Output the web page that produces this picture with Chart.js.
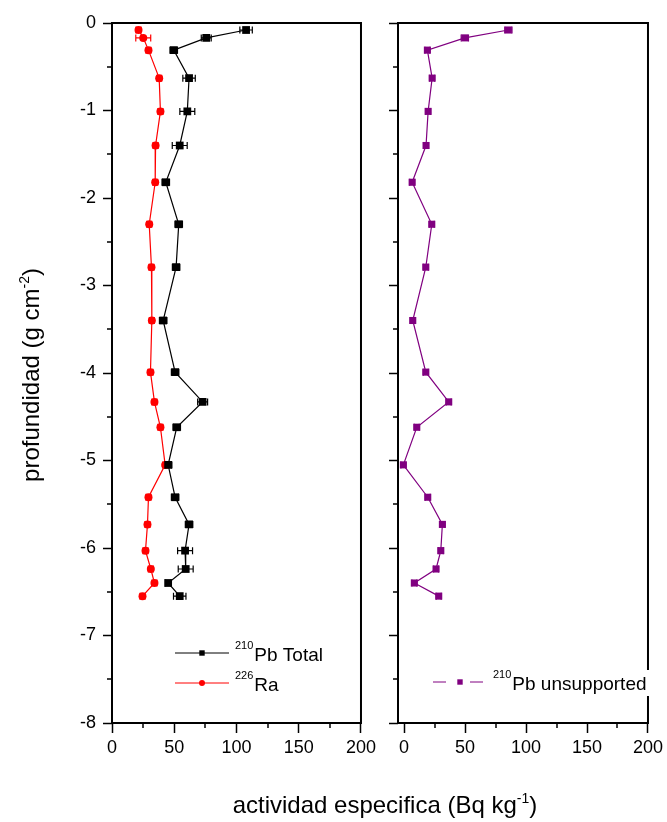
<!DOCTYPE html>
<html>
<head>
<meta charset="utf-8">
<script src="https://cdn.jsdelivr.net/npm/chart.js@4.4.1/dist/chart.umd.min.js"></script>
<style>
body{margin:0;background:#fff;width:667px;height:822px;position:relative;overflow:hidden;font-family:"Liberation Sans",Arial,sans-serif;color:#000}
canvas{position:absolute;top:0}
#left{left:0}
#right{left:380px}
.sup{font-size:14px;position:relative;top:-10px}
#xtitle{position:absolute;left:0;width:770px;top:790px;text-align:center;font-size:24px;line-height:30px}
#ytitle{position:absolute;left:-169px;top:360px;width:400px;height:30px;line-height:30px;text-align:center;font-size:24px;transform:rotate(-90deg)}
</style>
</head>
<body>
<canvas id="left" width="380" height="822"></canvas>
<canvas id="right" width="287" height="822"></canvas>
<div id="xtitle">actividad especifica (Bq kg<span class="sup">-1</span>)</div>
<div id="ytitle">profundidad (g cm<span class="sup">-2</span>)</div>
<script>
// depth (g cm-2) of each slice
const depth = [-0.08,-0.17,-0.31,-0.63,-1.01,-1.40,-1.82,-2.30,-2.79,-3.40,-3.99,-4.33,-4.62,-5.05,-5.42,-5.73,-6.03,-6.24,-6.40,-6.55];
const pbTotal = [107.7,75.7,49.6,61.9,60.5,54.4,43.2,53.6,51.5,41.1,50.7,72.8,52.0,45.1,50.7,61.9,58.7,59.2,45.1,54.4];
const pbTotalErr = [5,4,3,5,6,6,3,3,3,3,3,4,3,3,3,3,6,6,2,5];
const ra226 = [21.3,25.1,29.3,37.9,38.9,35.0,34.7,29.9,31.7,32.0,30.9,34.1,38.9,42.7,29.3,28.5,26.9,31.2,34.1,24.5];
const ra226Err = [2,6,2,2,2,2,2,2,2,2,2,2,2,2,2,2,2,2,2,2];
const pbUns = [85.5,49.8,19.1,23.0,19.7,18.0,6.6,22.7,17.8,7.1,17.8,36.6,10.4,-0.6,19.4,31.4,30.1,26.2,8.4,28.4];
const pbUnsErr = [3,3,2,2,2,2,2,2,2,2,2,2,2,2,2,2,2,2,2,2];
const xTicks = [0,50,100,150,200];
const yTicks = [-8,-7,-6,-5,-4,-3,-2,-1,0];

const FONT = '"Liberation Sans", Arial, sans-serif';

function pts(xs){ return xs.map((v,i)=>({x:v,y:depth[i]})); }

// error bars, frame, minor ticks, legend
const extras = {
  id:'extras',
  beforeDatasetsDraw(chart){
    const ctx=chart.ctx, xs=chart.scales.x, ys=chart.scales.y;
    chart.data.datasets.forEach((ds)=>{
      if(!ds.err) return;
      ctx.save();
      ctx.strokeStyle=ds.borderColor; ctx.lineWidth=1.2;
      ds.data.forEach((p,j)=>{
        const e=ds.err[j];
        const x1=xs.getPixelForValue(p.x-e), x2=xs.getPixelForValue(p.x+e), y=ys.getPixelForValue(p.y);
        ctx.beginPath();
        ctx.moveTo(x1,y);ctx.lineTo(x2,y);
        ctx.moveTo(x1,y-3.5);ctx.lineTo(x1,y+3.5);
        ctx.moveTo(x2,y-3.5);ctx.lineTo(x2,y+3.5);
        ctx.stroke();
      });
      ctx.restore();
    });
  },
  afterDraw(chart,args,opts){
    const ctx=chart.ctx, a=chart.chartArea, xs=chart.scales.x, ys=chart.scales.y;
    ctx.save();
    ctx.strokeStyle='#000';
    ctx.lineWidth=1.5;
    ctx.beginPath();
    for(let v=-7.5; v<0; v+=1){
      const y=Math.round(ys.getPixelForValue(v));
      ctx.moveTo(a.left-5,y);ctx.lineTo(a.left,y);
    }
    for(let v=25; v<200; v+=50){
      const x=Math.round(xs.getPixelForValue(v));
      ctx.moveTo(x,a.bottom);ctx.lineTo(x,a.bottom+5);
    }
    ctx.stroke();
    ctx.lineWidth=2;
    ctx.strokeRect(a.left,a.top,a.right-a.left,a.bottom-a.top);
    // legend
    const off=opts.offset||0;
    if(opts.box){
      ctx.fillStyle='#fff';
      ctx.fillRect(opts.box[0]-off,opts.box[1],opts.box[2],opts.box[3]);
    }
    (opts.items||[]).forEach(it=>{
      ctx.strokeStyle=it.color; ctx.fillStyle=it.color; ctx.lineWidth=1;
      ctx.beginPath();
      it.lines.forEach(l=>{ctx.moveTo(l[0]-off,it.y);ctx.lineTo(l[1]-off,it.y);});
      ctx.stroke();
      const mx=it.mx-off;
      if(it.shape==='circle'){
        ctx.beginPath();ctx.arc(mx,it.y,3,0,Math.PI*2);ctx.fill();
      } else {
        ctx.fillRect(mx-2.7,it.y-2.7,5.4,5.4);
      }
      ctx.fillStyle='#000';
      ctx.textBaseline='alphabetic';ctx.textAlign='left';
      ctx.font='11px '+FONT;
      ctx.fillText(it.sup,it.tx-off,it.y-4);
      const w=ctx.measureText(it.sup).width;
      ctx.font='19px '+FONT;
      ctx.fillText(it.text,it.tx-off+w+1,it.y+8);
    });
    ctx.restore();
  }
};

function axes(xmin, showYLabels, yWidth){
  return {
    x:{type:'linear',min:xmin,max:200,
      afterBuildTicks:s=>{s.ticks=xTicks.map(v=>({value:v}));},
      afterFit:s=>{s.height=99;},
      border:{display:false},
      grid:{drawOnChartArea:false,drawTicks:true,tickLength:10,tickColor:'#000',tickWidth:1.5},
      ticks:{color:'#000',padding:4,maxRotation:0,font:{family:FONT,size:18}}},
    y:{type:'linear',min:-8,max:0,
      afterBuildTicks:s=>{s.ticks=yTicks.map(v=>({value:v}));},
      afterFit:s=>{s.width=yWidth;},
      border:{display:false},
      grid:{drawOnChartArea:false,drawTicks:true,tickLength:9,tickColor:'#000',tickWidth:1.5},
      ticks:{display:showYLabels,color:'#000',padding:7,font:{family:FONT,size:18}}}
  };
}

new Chart(document.getElementById('left'),{
  type:'scatter',
  data:{datasets:[
    {label:'210Pb Total',data:pts(pbTotal),err:pbTotalErr,showLine:true,borderColor:'#000',backgroundColor:'#000',
     borderWidth:1.2,pointStyle:'rect',pointRadius:5.5,pointBorderWidth:0},
    {label:'226Ra',data:pts(ra226),err:ra226Err,showLine:true,borderColor:'#ff0000',backgroundColor:'#ff0000',
     borderWidth:1.2,pointStyle:'circle',pointRadius:4,pointBorderWidth:0}
  ]},
  options:{responsive:false,animation:false,devicePixelRatio:1,
    layout:{padding:{left:0,right:18,top:23,bottom:0}},
    plugins:{legend:{display:false},tooltip:{enabled:false},
      extras:{offset:0,items:[
        {color:'#000',shape:'rect',y:653,lines:[[175,229]],mx:202,sup:'210',text:'Pb Total',tx:235},
        {color:'#ff0000',shape:'circle',y:683,lines:[[175,229]],mx:202,sup:'226',text:'Ra',tx:235}
      ]}},
    scales:axes(0,true,112)},
  plugins:[extras]
});

new Chart(document.getElementById('right'),{
  type:'scatter',
  data:{datasets:[
    {label:'210Pb unsupported',data:pts(pbUns),err:pbUnsErr,showLine:true,borderColor:'#800080',backgroundColor:'#800080',
     borderWidth:1.2,pointStyle:'rect',pointRadius:5,pointBorderWidth:0}
  ]},
  options:{responsive:false,animation:false,devicePixelRatio:1,
    layout:{padding:{left:0,right:19,top:23,bottom:0}},
    plugins:{legend:{display:false},tooltip:{enabled:false},
      extras:{offset:380,box:[428,670,226,26],items:[
        {color:'#800080',shape:'rect',y:682,lines:[[433,446],[470,483]],mx:460,sup:'210',text:'Pb unsupported',tx:493}
      ]}},
    scales:axes(-5,false,18)},
  plugins:[extras]
});
</script>
</body>
</html>
